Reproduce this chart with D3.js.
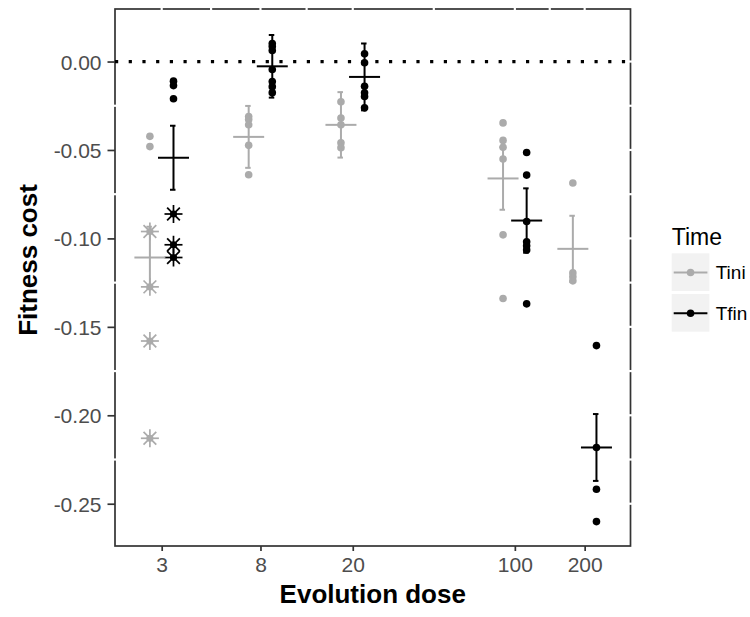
<!DOCTYPE html>
<html>
<head>
<meta charset="utf-8">
<script src="https://cdn.jsdelivr.net/npm/d3@7"></script>
<style>
  html, body { margin: 0; padding: 0; background: #fff; }
  svg { display: block; font-family: "Liberation Sans", Arial, sans-serif; }
</style>
</head>
<body>
<svg id="chart" width="750" height="617"></svg>
<script>
// ---- data ----
const doses = [3, 8, 20, 100, 200];
const times = ["Tini", "Tfin"];
const timeColors = ["#ABABAB", "#000000"];

// individual measurements drawn as circles
const tiniPoints = [
  [-0.0423, -0.0481],
  [-0.0311, -0.0328, -0.0357, -0.0474, -0.0640],
  [-0.0228, -0.0319, -0.0358, -0.0459, -0.0487],
  [-0.0347, -0.0446, -0.0485, -0.0551, -0.0980, -0.1340],
  [-0.0687, -0.1195, -0.1217, -0.1240]
];
const tfinPoints = [
  [-0.0111, -0.0136, -0.0210],
  [0.0102, 0.0085, 0.0062, -0.0045, -0.0113, -0.0142, -0.0176],
  [0.0044, -0.0007, -0.0140, -0.0177, -0.0198, -0.0262],
  [-0.0514, -0.0642, -0.0904, -0.1019, -0.1042, -0.1065, -0.1370],
  [-0.1606, -0.2182, -0.2418, -0.2601]
];
// individual measurements drawn as asterisks
const tiniStars = [[-0.0961, -0.1274, -0.1580, -0.2130], [], [], [], []];
const tfinStars = [[-0.0862, -0.1036, -0.1108], [], [], [], []];

// group mean and error half-width
const tiniMean = [-0.1108, -0.0426, -0.0358, -0.0661, -0.1059];
const tiniErr  = [0.0174, 0.0175, 0.0185, 0.0177, 0.0187];
const tfinMean = [-0.0544, -0.0027, -0.0087, -0.0899, -0.2182];
const tfinErr  = [0.0181, 0.0177, 0.0189, 0.0182, 0.0189];

const yTicks = [0, -0.05, -0.10, -0.15, -0.20, -0.25];
const yTickLabels = ["0.00", "-0.05", "-0.10", "-0.15", "-0.20", "-0.25"];
const xTickLabels = ["3", "8", "20", "100", "200"];

// ---- layout ----
const svg = d3.select("#chart");
const P = { left: 115, right: 630.5, top: 9, bottom: 546 };

const x = d3.scaleLog().domain([1.887, 315.3]).range([P.left, P.right]);
const y = d3.scaleLinear().domain([-0.2739, 0.0297]).range([P.bottom, P.top]);
const dodge = d3.scaleOrdinal().domain(times).range([-11.8, 11.8]);

const groups = [];
times.forEach((t, ti) => {
  const pts = ti === 0 ? tiniPoints : tfinPoints;
  const stars = ti === 0 ? tiniStars : tfinStars;
  const mean = ti === 0 ? tiniMean : tfinMean;
  const err = ti === 0 ? tiniErr : tfinErr;
  doses.forEach((d, di) => {
    groups.push({ time: t, color: timeColors[ti], dose: d,
      points: pts[di], stars: stars[di], mean: mean[di], err: err[di] });
  });
});
const gx = g => x(g.dose) + dodge(g.time);

// panel border
const border = svg.append("g");
border.append("rect")
  .attr("x", P.left).attr("y", P.top)
  .attr("width", P.right - P.left).attr("height", P.bottom - P.top)
  .attr("fill", "#fff").attr("stroke", "#333").attr("stroke-width", 1.7);

// white grid lines crossing the border (as in the reference)
const logMid = (a, b) => Math.sqrt(a * b);
const xGrid = doses.concat(d3.pairs(doses).map(([a, b]) => logMid(a, b)));
const yMinor = d3.pairs(yTicks).map(([a, b]) => (a + b) / 2);
const gridW = 2.2;
xGrid.forEach(v => {
  border.append("line").attr("x1", x(v)).attr("x2", x(v))
    .attr("y1", P.top - 2).attr("y2", P.top + 2)
    .attr("stroke", "#fff").attr("stroke-width", gridW);
});
yMinor.forEach(v => {
  [P.left, P.right].forEach(px => {
    border.append("line").attr("x1", px - 2).attr("x2", px + 2)
      .attr("y1", y(v)).attr("y2", y(v))
      .attr("stroke", "#fff").attr("stroke-width", gridW);
  });
});
yTicks.forEach(v => {
  border.append("line").attr("x1", P.right - 2).attr("x2", P.right + 2)
    .attr("y1", y(v)).attr("y2", y(v))
    .attr("stroke", "#fff").attr("stroke-width", gridW);
});

// zero reference line
svg.append("line")
  .attr("x1", P.left).attr("x2", P.right - 1)
  .attr("y1", y(0)).attr("y2", y(0))
  .attr("stroke", "#000").attr("stroke-width", 3.2)
  .attr("stroke-dasharray", "3.2,10.5");

// points
const pts = svg.append("g");
groups.forEach(g => {
  g.points.forEach(v => {
    pts.append("circle").attr("cx", gx(g)).attr("cy", y(v)).attr("r", 3.8)
      .attr("fill", g.color);
  });
  g.stars.forEach(v => {
    const cx = gx(g), cy = y(v), r = 9;
    pts.append("circle").attr("cx", cx).attr("cy", cy).attr("r", 3.6)
      .attr("fill", g.color);
    [0, 45, 90, 135].forEach(a => {
      const rad = a * Math.PI / 180;
      pts.append("line")
        .attr("x1", cx - r * Math.cos(rad)).attr("y1", cy - r * Math.sin(rad))
        .attr("x2", cx + r * Math.cos(rad)).attr("y2", cy + r * Math.sin(rad))
        .attr("stroke", g.color).attr("stroke-width", 1.7);
    });
  });
});

// error bars and mean crosses
const eb = svg.append("g");
groups.forEach(g => {
  const cx = gx(g);
  const y1 = y(g.mean + g.err), y2 = y(g.mean - g.err);
  eb.append("line").attr("x1", cx).attr("x2", cx).attr("y1", y1).attr("y2", y2)
    .attr("stroke", g.color).attr("stroke-width", 2);
  [y1, y2].forEach(yy => {
    eb.append("line").attr("x1", cx - 3.5).attr("x2", cx + 2).attr("y1", yy).attr("y2", yy)
      .attr("stroke", g.color).attr("stroke-width", 2);
  });
  eb.append("line").attr("x1", cx - 15.5).attr("x2", cx + 15.5)
    .attr("y1", y(g.mean)).attr("y2", y(g.mean))
    .attr("stroke", g.color).attr("stroke-width", 2);
});

// axes
const yAxis = svg.append("g").attr("transform", `translate(${P.left},0)`)
  .call(d3.axisLeft(y).tickValues(yTicks).tickFormat((d, i) => yTickLabels[i]).tickSize(7.5).tickPadding(6));
const xAxis = svg.append("g").attr("transform", `translate(0,${P.bottom})`)
  .call(d3.axisBottom(x).tickValues(doses).tickFormat((d, i) => xTickLabels[i]).tickSize(5).tickPadding(6));
[yAxis, xAxis].forEach(a => {
  a.select(".domain").remove();
  a.selectAll(".tick line").attr("stroke", "#333").attr("stroke-width", 1.7);
  a.selectAll(".tick text").attr("fill", "#4D4D4D")
    .style("font-size", "21px").style("font-family", "'Liberation Sans', Arial, sans-serif");
});
yAxis.selectAll(".tick text").attr("dy", "0.36em");
xAxis.selectAll(".tick text").attr("dy", "0.72em");

// axis titles
svg.append("text").attr("x", (P.left + P.right) / 2).attr("y", 603)
  .attr("text-anchor", "middle").style("font-size", "26px").style("font-weight", "bold")
  .text("Evolution dose");
svg.append("text").attr("transform", "translate(37,260) rotate(-90)")
  .attr("text-anchor", "middle").style("font-size", "26px").style("font-weight", "bold")
  .text("Fitness cost");

// legend
const lg = svg.append("g").attr("transform", "translate(671.7,0)");
lg.append("text").attr("x", 0).attr("y", 245).style("font-size", "23px").text("Time");
times.forEach((t, i) => {
  const ky = 253.3 + i * 40.7;
  lg.append("rect").attr("x", 0).attr("y", ky).attr("width", 37.7).attr("height", 37.7)
    .attr("fill", "#F2F2F2");
  lg.append("line").attr("x1", 2).attr("x2", 35.7)
    .attr("y1", ky + 19.2).attr("y2", ky + 19.2)
    .attr("stroke", timeColors[i]).attr("stroke-width", 2);
  lg.append("circle").attr("cx", 18.85).attr("cy", ky + 19.2).attr("r", 3.8)
    .attr("fill", timeColors[i]);
  lg.append("text").attr("x", 44).attr("y", ky + 19.2).attr("dy", "0.36em")
    .style("font-size", "19px").text(t);
});
</script>
</body>
</html>
